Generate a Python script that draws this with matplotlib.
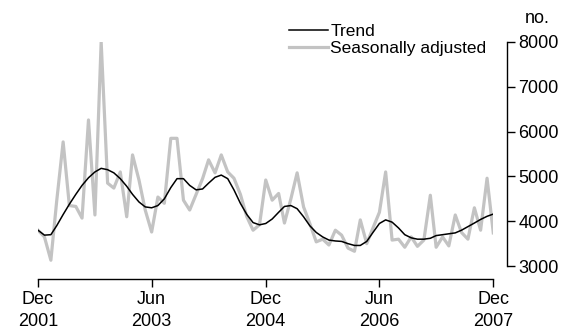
import numpy as np
import pandas as pd
import matplotlib
matplotlib.use("Agg")
import matplotlib.pyplot as plt

plt.rcParams['font.family'] = ['Liberation Sans', 'DejaVu Sans']

# monthly, Dec 2001 - Dec 2007
months = pd.date_range("2001-12-01", "2007-12-01", freq="MS")

trend = [3800, 3690, 3700, 3900, 4150, 4380, 4600, 4800, 4970, 5100,
         5180, 5150, 5080, 4950, 4780, 4600, 4430, 4320, 4300, 4350,
         4500, 4750, 4950, 4950, 4800, 4700, 4720, 4850, 4980, 5030,
         4950, 4700, 4400, 4150, 3970, 3920, 3950, 4050, 4200, 4330,
         4350, 4280, 4100, 3900, 3750, 3650, 3580, 3560, 3550, 3500,
         3460, 3460, 3550, 3750, 3950, 4030, 3980, 3850, 3700, 3630,
         3600, 3600, 3620, 3680, 3700, 3720, 3740, 3800, 3880, 3960,
         4040, 4110, 4160]

seas_adj = [3800, 3650, 3130, 4450, 5770, 4350, 4330, 4070, 6260, 4140,
            8000, 4850, 4740, 5100, 4100, 5480, 4920, 4250, 3760, 4540,
            4400, 5850, 5850, 4470, 4250, 4600, 4950, 5370, 5080, 5480,
            5100, 4960, 4600, 4100, 3800, 3920, 4920, 4470, 4620, 3960,
            4500, 5080, 4320, 3950, 3540, 3600, 3470, 3800, 3690, 3400,
            3330, 4030, 3500, 3850, 4200, 5100, 3580, 3600, 3420, 3650,
            3440, 3580, 4580, 3420, 3650, 3450, 4140, 3750, 3600, 4300,
            3800, 4960, 3740]

tick_dates = pd.to_datetime(["2001-12-01", "2003-06-01", "2004-12-01",
                             "2006-06-01", "2007-12-01"])
tick_labels = ["Dec\n2001", "Jun\n2003", "Dec\n2004", "Jun\n2006", "Dec\n2007"]

fig = plt.figure(figsize=(5.67, 3.33), dpi=100)
ax = fig.add_axes([0.067, 0.201, 0.803, 0.673])

ax.plot(months, seas_adj, color='#c3c3c3', lw=2.3, label='Seasonally adjusted')
ax.plot(months, trend, color='black', lw=1.1, label='Trend')

ax.set_xlim(months[0], months[-1])
ax.set_ylim(3000, 8000)
ax.set_yticks([3000, 4000, 5000, 6000, 7000, 8000])

ax.yaxis.tick_right()
ax.spines['left'].set_visible(False)
ax.spines['top'].set_visible(False)
ax.spines['right'].set_position(('outward', 10))
ax.spines['bottom'].set_position(('outward', 9))
for s in ['right', 'bottom']:
    ax.spines[s].set_linewidth(1.0)

ax.set_xticks(tick_dates)
ax.set_xticklabels(tick_labels, linespacing=1.35)
ax.tick_params(axis='both', labelsize=13, width=1.0, length=6)
ax.tick_params(axis='y', pad=2)
ax.tick_params(axis='x', pad=3)

ax.text(1.07, 1.065, 'no.', transform=ax.transAxes, fontsize=13,
        ha='left', va='bottom')

h, l = ax.get_legend_handles_labels()
ax.legend(h[::-1], l[::-1], loc='upper right', bbox_to_anchor=(1.0, 1.11),
          frameon=False, fontsize=12.5, handlelength=2.3, handletextpad=0.1,
          labelspacing=0.1, borderaxespad=0)

fig.savefig('out.png', dpi=100)
